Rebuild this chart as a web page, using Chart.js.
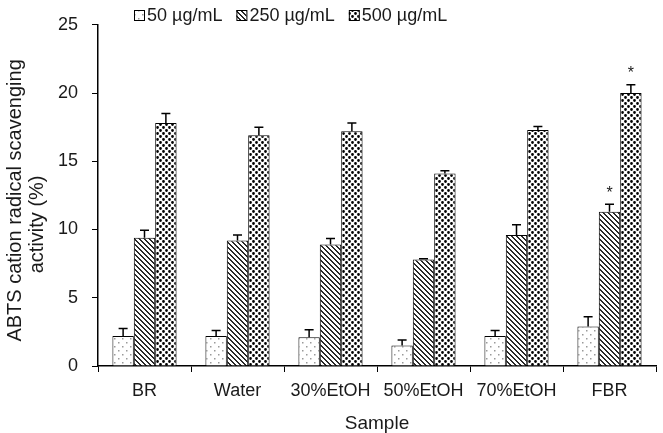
<!DOCTYPE html>
<html>
<head>
<meta charset="utf-8">
<script src="https://cdn.jsdelivr.net/npm/chart.js@4/dist/chart.umd.min.js"></script>
<style>
  body { margin: 0; background: #fff; }
  #wrap { width: 663px; height: 433px; }
</style>
</head>
<body>
<div id="wrap"><canvas id="chart" width="663" height="433"></canvas></div>
<script>
const categories = ["BR", "Water", "30%EtOH", "50%EtOH", "70%EtOH", "FBR"];
const seriesNames = ["50 \u00b5g/mL", "250 \u00b5g/mL", "500 \u00b5g/mL"];
const v50 = [2.2, 2.2, 2.1, 1.5, 2.2, 2.9];
const v250 = [9.4, 9.2, 8.9, 7.8, 9.6, 11.3];
const v500 = [17.8, 16.9, 17.2, 14.1, 17.3, 20.0];
const sd50 = [0.55, 0.4, 0.55, 0.4, 0.4, 0.7];
const sd250 = [0.55, 0.4, 0.45, 0.05, 0.75, 0.55];
const sd500 = [0.7, 0.6, 0.6, 0.2, 0.25, 0.6];
const marks250 = ["", "", "", "", "", "*"];
const marks500 = ["", "", "", "", "", "*"];
const yTicks = [0, 5, 10, 15, 20, 25];
const yTitle = ["ABTS cation radical scavenging", "activity (%)"];

const FONT = "'Liberation Sans', Arial, sans-serif";
const INK = "#1a1a1a";

// small tiles for the hatch fills
function makeTile(size, paint) {
  const c = document.createElement("canvas");
  c.width = size; c.height = size;
  const g = c.getContext("2d");
  g.fillStyle = "#fff";
  g.fillRect(0, 0, size, size);
  paint(g, size);
  return document.getElementById("chart").getContext("2d").createPattern(c, "repeat");
}

const pDots = makeTile(8, (g) => {
  g.fillStyle = "#9a9a9a";
  g.fillRect(2, 2, 1.5, 1.5);
  g.fillRect(6, 6, 1.5, 1.5);
});
const pStripes = makeTile(5, (g, s) => {
  g.fillStyle = "#2a2a2a";
  for (let y = 0; y < s; y++) {
    for (let x = 0; x < s; x++) {
      if (((x - y) % s + s) % s < 2) g.fillRect(x, y, 1, 1);
    }
  }
});
const pSpots = makeTile(6, (g) => {
  g.fillStyle = "#000";
  g.beginPath();
  g.arc(1.5, 1.5, 1.4, 0, Math.PI * 2);
  g.arc(4.5, 4.5, 1.4, 0, Math.PI * 2);
  g.fill();
});

const fills = [pDots, pStripes, pSpots];

const errorBars = {
  id: "errorBars",
  afterDatasetsDraw(chart) {
    const ctx = chart.ctx;
    const y = chart.scales.y;
    ctx.save();
    ctx.strokeStyle = "#000";
    ctx.fillStyle = INK;
    ctx.lineWidth = 1.5;
    chart.data.datasets.forEach((ds, i) => {
      chart.getDatasetMeta(i).data.forEach((bar, j) => {
        const top = y.getPixelForValue(ds.data[j] + ds.errors[j]);
        ctx.beginPath();
        ctx.moveTo(bar.x, bar.y);
        ctx.lineTo(bar.x, top);
        ctx.moveTo(bar.x - 4.5, top);
        ctx.lineTo(bar.x + 4.5, top);
        ctx.stroke();
        if (ds.marks && ds.marks[j]) {
          ctx.font = "16px " + FONT;
          ctx.textAlign = "center";
          ctx.textBaseline = "middle";
          ctx.fillText(ds.marks[j], bar.x, top - 11);
        }
      });
    });
    ctx.restore();
  }
};

// legend row and the two-line y title, placed like the original figure
const extraText = {
  id: "extraText",
  afterDraw(chart) {
    const ctx = chart.ctx;
    ctx.save();
    ctx.font = "18px " + FONT;
    ctx.textBaseline = "middle";
    ctx.textAlign = "left";
    let x = chart.chartArea.left + 36;
    const cy = 15;
    chart.data.datasets.forEach((ds) => {
      ctx.fillStyle = ds.backgroundColor;
      ctx.fillRect(x, cy - 5, 10, 10);
      ctx.strokeStyle = "#000";
      ctx.lineWidth = 1;
      ctx.strokeRect(x + 0.5, cy - 4.5, 10, 10);
      ctx.fillStyle = INK;
      ctx.fillText(ds.label, x + 13, cy + 1);
      x += 13 + ctx.measureText(ds.label).width + 14;
    });

    ctx.font = "20px " + FONT;
    ctx.textAlign = "center";
    ctx.fillStyle = INK;
    const mid = (chart.chartArea.top + chart.chartArea.bottom) / 2;
    [[15, mid + 5], [37, mid + 29]].forEach((p, k) => {
      ctx.save();
      ctx.translate(p[0], p[1]);
      ctx.rotate(-Math.PI / 2);
      ctx.fillText(yTitle[k], 0, 0);
      ctx.restore();
    });
    ctx.restore();
  }
};

const values = [v50, v250, v500];
const errs = [sd50, sd250, sd500];
const marks = [null, marks250, marks500];

new Chart(document.getElementById("chart"), {
  type: "bar",
  data: {
    labels: categories,
    datasets: seriesNames.map((name, i) => ({
      label: name,
      data: values[i],
      errors: errs[i],
      marks: marks[i],
      backgroundColor: fills[i],
      borderColor: "#000",
      borderWidth: 1,
      categoryPercentage: 0.69,
      barPercentage: 1.0
    }))
  },
  options: {
    responsive: false,
    animation: false,
    devicePixelRatio: 1,
    layout: { padding: { top: 13, right: 7, left: 0, bottom: 0 } },
    plugins: {
      legend: { display: false },
      tooltip: { enabled: false }
    },
    scales: {
      x: {
        afterFit(scale) { scale.height = 67; },
        border: { color: "#000", width: 1.5 },
        grid: { offset: true, drawOnChartArea: false, color: "#000", tickLength: 6, lineWidth: 1 },
        ticks: { color: INK, font: { family: FONT, size: 18 }, padding: 8, maxRotation: 0, autoSkip: false },
        title: {
          display: true,
          text: "Sample",
          color: INK,
          font: { family: FONT, size: 19, lineHeight: 1 },
          padding: { top: 0, bottom: 0 }
        }
      },
      y: {
        min: 0,
        max: 25,
        afterFit(scale) { scale.width = 98; },
        afterBuildTicks(scale) { scale.ticks = yTicks.map(v => ({ value: v })); },
        border: { color: "#000", width: 1.5 },
        grid: { drawOnChartArea: false, color: "#000", tickLength: 6, lineWidth: 1 },
        ticks: { color: INK, font: { family: FONT, size: 18 }, padding: 14 }
      }
    }
  },
  plugins: [errorBars, extraText]
});
</script>
</body>
</html>
